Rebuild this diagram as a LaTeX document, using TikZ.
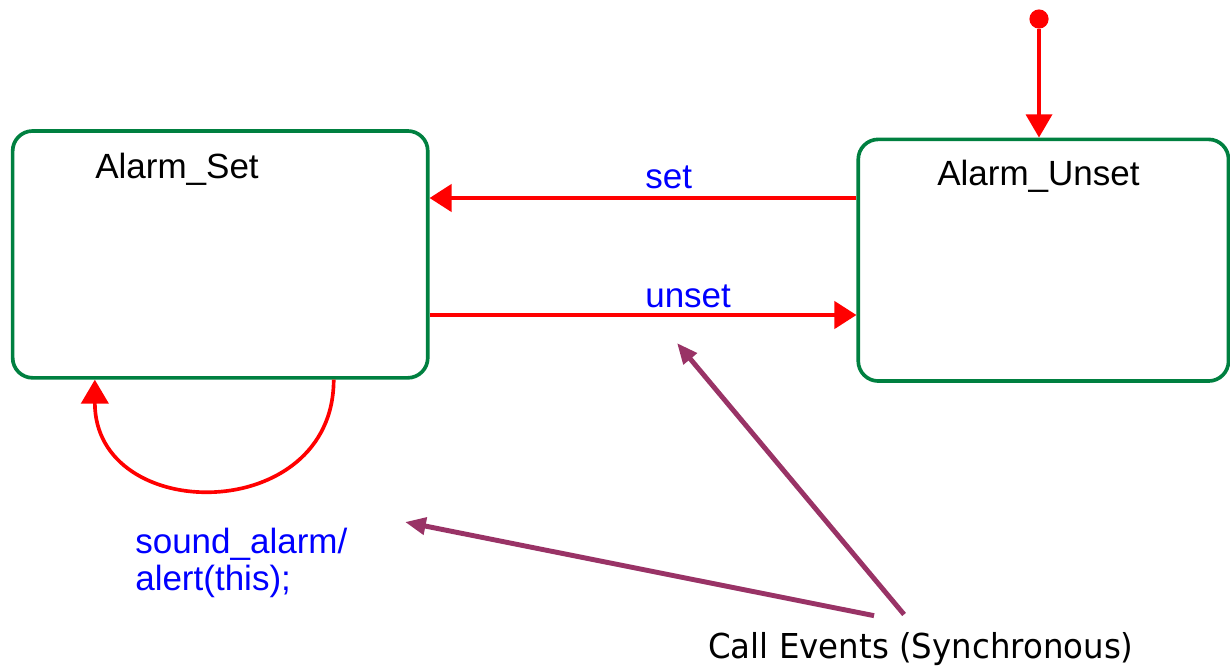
\documentclass[tikz,border=0pt]{standalone}
\usepackage{fontspec}
\setmainfont{Liberation Sans}
\newfontfamily\notefont[FakeStretch=0.945]{DejaVu Sans}
\usetikzlibrary{arrows.meta}
\definecolor{stategreen}{RGB}{0,128,64}
\definecolor{trred}{RGB}{255,0,0}
\definecolor{evblue}{RGB}{0,0,255}
\definecolor{plum}{RGB}{153,51,102}
\tikzset{
  statebox/.style={draw=stategreen, line width=2.6pt, rounded corners=0.5cm,
    inner sep=0pt, rectangle},
  statename/.style={font=\fontsize{24.9}{26.3}\selectfont, text=black,
    inner sep=0pt, anchor=base west},
  evlabel/.style={font=\fontsize{24.9}{26.3}\selectfont, text=evblue,
    inner sep=0pt, anchor=base west, align=left},
  transition/.style={draw=trred, line width=2.6pt,
    -{Triangle[length=0.55cm,width=0.68cm]}},
  callout/.style={draw=plum, line width=3.5pt,
    -{Triangle[length=0.52cm,width=0.42cm]}},
  note/.style={font=\notefont\fontsize{24.4}{26}\selectfont, text=black,
    inner sep=0pt, anchor=base west}
}
\begin{document}
\begin{tikzpicture}[x=0.025cm, y=-0.025cm]
\useasboundingbox (0,0) rectangle (1230,667);

% states
\node[statebox, minimum width=10.375cm, minimum height=6.17cm]
  (alarmset) at (220.2,254.4) {};
\node[statebox, minimum width=9.255cm, minimum height=6.04cm]
  (alarmunset) at (1043.4,260.2) {};
\node[statename] (setname) at (95,178) {Alarm\_Set};
\node[statename] (unsetname) at (937,185) {Alarm\_Unset};

% initial pseudostate
\node[circle, fill=trred, inner sep=0pt, minimum size=0.48cm] (init) at (1039,19) {};
\draw[transition, -{Triangle[length=0.58cm,width=0.65cm]}]
  (init) -- (init |- alarmunset.north);

% transitions between the states
\coordinate (setrow) at (0,198);
\coordinate (unsetrow) at (0,315);
\draw[transition] (alarmunset.west |- setrow) -- (alarmset.east |- setrow);
\draw[transition] (alarmset.east |- unsetrow) -- (alarmunset.west |- unsetrow);
\node[evlabel] (setlbl) at (645,188) {set};
\node[evlabel] (unsetlbl) at (645,307) {unset};

% self transition on Alarm_Set
\draw[transition, -{Triangle[length=0.6cm,width=0.68cm]}]
  ([xshift=8.07cm]alarmset.south west)
  .. controls +(0,-3.65cm) and +(0,-3.65cm) ..
  ([xshift=2.1cm]alarmset.south west);
\node[evlabel] (selflbl) at (135,590) {sound\_alarm/\\alert(this);};

% annotation
\node[note] (callnote) at (708,658) {Call Events (Synchronous)};
\coordinate (tipA) at (677,343);
\coordinate (tipB) at (405,522);
\draw[callout] ([xshift=4.9cm,yshift=0.43cm]callnote.north west) -- (tipA);
\draw[callout] ([xshift=4.15cm,yshift=0.4cm]callnote.north west) -- (tipB);
\end{tikzpicture}
\end{document}
